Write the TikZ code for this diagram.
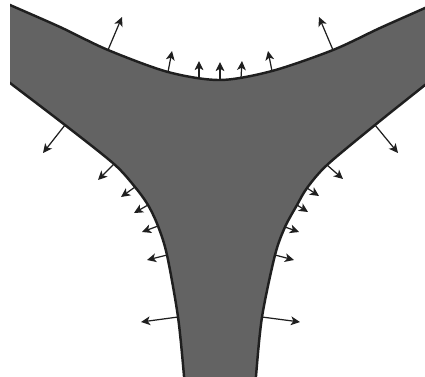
\documentclass[tikz,border=0pt]{standalone}
\usepackage{tikz}
\usetikzlibrary{arrows.meta}

\begin{document}
\begin{tikzpicture}[
    x=0.02cm, y=-0.02cm,
    region/.style={draw=black!88, fill=black!61, line width=1.4pt, line join=round},
    normal/.style={draw=black!88, -{Stealth[length=5.2pt, width=5pt, inset=1.4pt]}, line width=0.7pt}
]
    \useasboundingbox (0,0) rectangle (425,376);

    % Region (cut ends lie outside the clip)
    \begin{scope}
    \clip (10,-10) rectangle (425,376);
    \path[region] plot[smooth] coordinates {(-10,-4) (10,5) (60,27) (108,50) (168,72) (220,80) (272,71) (333,50) (380,28) (425,8) (445,-1)}
        -- plot[smooth] coordinates {(445,69) (425,85) (375,125) (327,165) (307,188) (297,205) (285,227) (275,255) (262,317) (256,376) (255,396)}
        -- plot[smooth] coordinates {(185,396) (184,376) (178,317) (167,255) (158,226) (148,205) (135,187) (114,164) (65,125) (10,83) (-10,68)}
        -- cycle;
    \end{scope}

    % Normals, top boundary
    \draw[normal] (108,50) -- (122,17);
    \draw[normal] (168,72) -- (172,51);
    \draw[normal] (199,78) -- (199,61);
    \draw[normal] (220,80) -- (220,62);
    \draw[normal] (241,78) -- (242,61);
    \draw[normal] (272,71) -- (268,51);
    \draw[normal] (333,50) -- (319,17);

    % Normals, left boundary
    \draw[normal] (65,125) -- (43,153);
    \draw[normal] (114,164) -- (98,180);
    \draw[normal] (135,187) -- (121,197);
    \draw[normal] (148,205) -- (134,213);
    \draw[normal] (158,226) -- (142,232);
    \draw[normal] (167,255) -- (147,260);
    \draw[normal] (178,317) -- (141,322);

    % Normals, right boundary
    \draw[normal] (375,125) -- (398,153);
    \draw[normal] (327,165) -- (343,179);
    \draw[normal] (307,188) -- (319,196);
    \draw[normal] (297,205) -- (308,212);
    \draw[normal] (285,227) -- (299,232);
    \draw[normal] (275,255) -- (294,260);
    \draw[normal] (262,317) -- (300,322);

\end{tikzpicture}
\end{document}
